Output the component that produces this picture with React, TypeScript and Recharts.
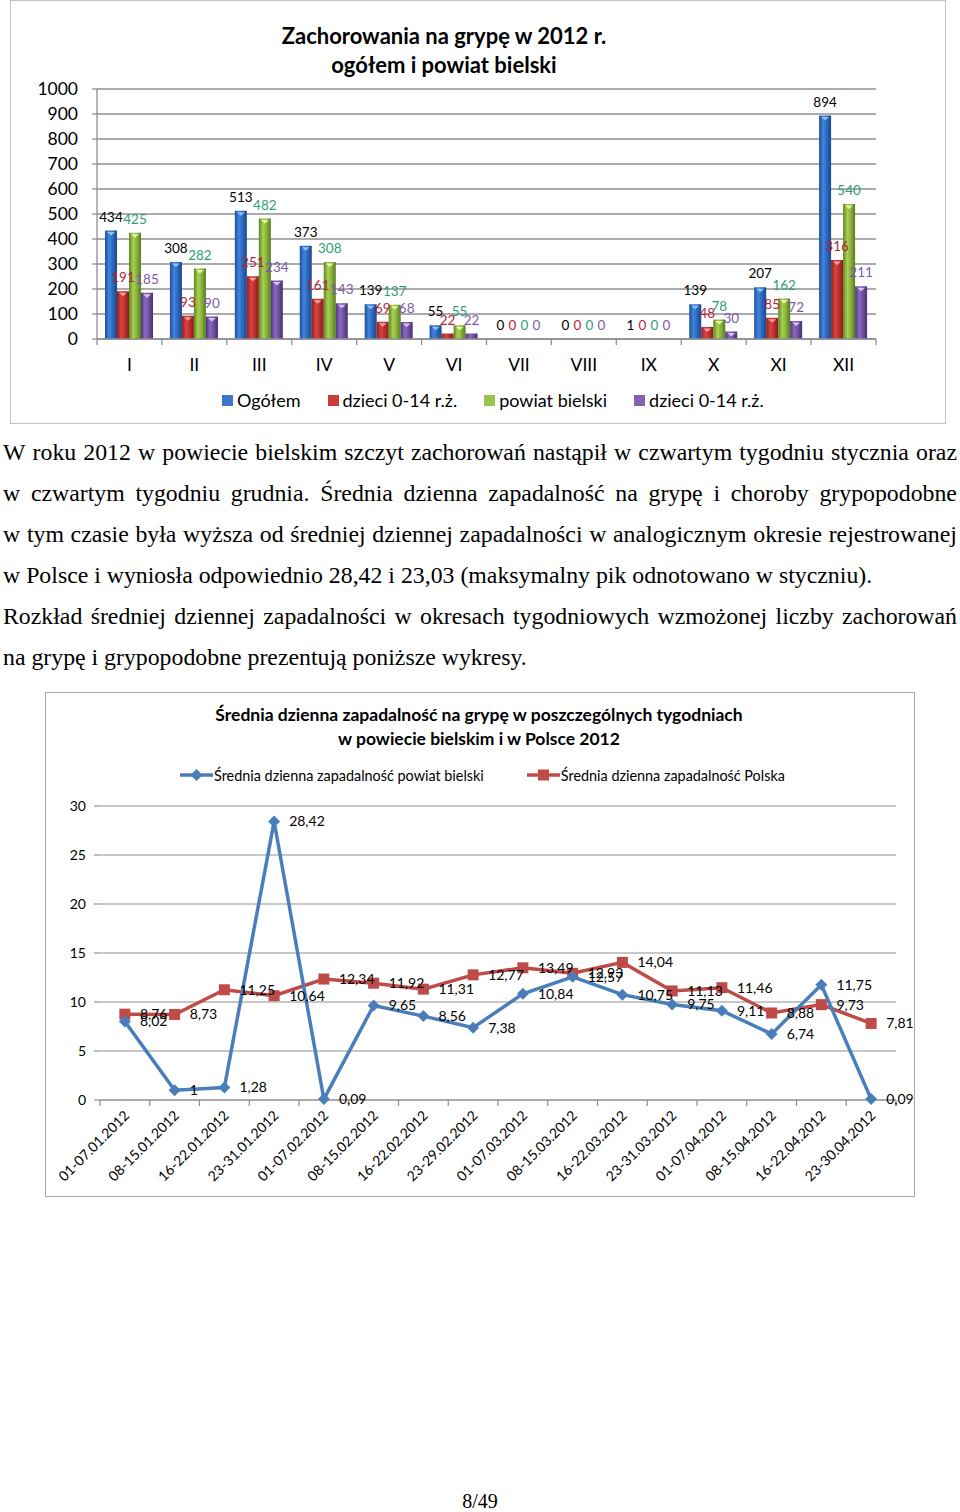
import React from 'react';
import { BarChart, Bar, XAxis, YAxis, CartesianGrid, LabelList, LineChart, Line } from 'recharts';

// ---------- Chart 1 data ----------
const months = ['I', 'II', 'III', 'IV', 'V', 'VI', 'VII', 'VIII', 'IX', 'X', 'XI', 'XII'];
const ogolem = [434, 308, 513, 373, 139, 55, 0, 0, 1, 139, 207, 894];
const dzieci = [191, 93, 251, 161, 69, 22, 0, 0, 0, 48, 85, 316];
const powiat = [425, 282, 482, 308, 137, 55, 0, 0, 0, 78, 162, 540];
const dzieciPowiat = [185, 90, 234, 143, 68, 22, 0, 0, 0, 30, 72, 211];
const barTicks = [0, 100, 200, 300, 400, 500, 600, 700, 800, 900, 1000];

// ---------- Chart 2 data ----------
const weeks = [
  '01-07.01.2012', '08-15.01.2012', '16-22.01.2012', '23-31.01.2012',
  '01-07.02.2012', '08-15.02.2012', '16-22.02.2012', '23-29.02.2012',
  '01-07.03.2012', '08-15.03.2012', '16-22.03.2012', '23-31.03.2012',
  '01-07.04.2012', '08-15.04.2012', '16-22.04.2012', '23-30.04.2012',
];
const rateBielski = [8.02, 1, 1.28, 28.42, 0.09, 9.65, 8.56, 7.38, 10.84, 12.57, 10.75, 9.75, 9.11, 6.74, 11.75, 0.09];
const ratePolska = [8.76, 8.73, 11.25, 10.64, 12.34, 11.92, 11.31, 12.77, 13.49, 12.93, 14.04, 11.13, 11.46, 8.88, 9.73, 7.81];
const lineTicks = [0, 5, 10, 15, 20, 25, 30];

const barData = months.map((m, i) => ({
  m,
  ogolem: ogolem[i],
  dzieci: dzieci[i],
  powiat: powiat[i],
  dzieciPowiat: dzieciPowiat[i],
}));
const lineData = weeks.map((w, i) => ({ w, bielski: rateBielski[i], polska: ratePolska[i] }));

const FONT = 'Lato, "Open Sans", sans-serif';
const SERIF = '"Liberation Serif", "Times New Roman", serif';
const GRID = '#8f8f8f';

// chart 1 geometry (styles)
const C1W = 937, C1H = 424;
const C1M = { top: 89, right: 71, left: 0, bottom: 0 };
const C1Y = 87, C1X = 85;
const C1PlotW = C1W - C1M.right - C1Y;

// chart 2 geometry
const C2W = 870, C2H = 505;
const C2M = { top: 114, right: 19, left: 0, bottom: 0 };
const C2Y = 55, C2X = 97;
const C2PlotW = C2W - C2M.right - C2Y;
const C2Pad = C2PlotW / weeks.length / 2;

const barSeries = [
  { key: 'ogolem', name: 'Ogółem', grad: 'gBlue', cap: '#8fc0f5', label: '#000000', icon: '#3a78cc' },
  { key: 'dzieci', name: 'dzieci 0-14 r.ż.', grad: 'gRed', cap: '#f2a0a0', label: '#b3263a', icon: '#cc3b38' },
  { key: 'powiat', name: 'powiat bielski', grad: 'gGreen', cap: '#e2f5a0', label: '#2f9e72', icon: '#9bc24a' },
  { key: 'dzieciPowiat', name: 'dzieci 0-14 r.ż.', grad: 'gPurple', cap: '#d6c4f2', label: '#7b5aa6', icon: '#8462b0' },
];

const makeBarShape = (grad: string, cap: string) => (props: any) => {
  const { x, y, width, height } = props;
  if (!height || height <= 0) return <g />;
  const cx = x + width / 2;
  return (
    <g>
      <rect x={x} y={y} width={width} height={height} fill={`url(#${grad})`} />
      {height > 6 && (
        <polygon points={`${cx - 4},${y + 1.5} ${cx + 4},${y + 1.5} ${cx},${y + 5}`} fill={cap} />
      )}
    </g>
  );
};

const MonthTick = (props: any) => {
  const { x, y, payload, index } = props;
  const half = C1PlotW / months.length / 2;
  return (
    <g>
      <line x1={x - half} y1={y} x2={x - half} y2={y + 6} stroke={GRID} strokeWidth={1.3} />
      {index === months.length - 1 && (
        <line x1={x + half} y1={y} x2={x + half} y2={y + 6} stroke={GRID} strokeWidth={1.3} />
      )}
      <text x={x} y={y + 26} dy="0.35em" textAnchor="middle" fontSize={17.5} fill="#000" fontFamily={FONT}>
        {payload.value}
      </text>
    </g>
  );
};

const WeekTick = (props: any) => {
  const { x, y, payload, index } = props;
  const half = C2Pad;
  const tx = x + 2;
  const ty = y + 13;
  return (
    <g>
      <line x1={x - half} y1={y} x2={x - half} y2={y + 6} stroke={GRID} strokeWidth={1.2} />
      {index === weeks.length - 1 && (
        <line x1={x + half} y1={y} x2={x + half} y2={y + 6} stroke={GRID} strokeWidth={1.2} />
      )}
      <text
        x={tx}
        y={ty}
        dy="0.35em"
        textAnchor="end"
        fontSize={14}
        fill="#000"
        fontFamily={FONT}
        transform={`rotate(-45, ${tx}, ${ty})`}
      >
        {payload.value}
      </text>
    </g>
  );
};

const fmt = (v: number) => String(v).replace('.', ',');

const pointLabel = (p: any) => {
  const px = p.x ?? p.viewBox?.x;
  const py = p.y ?? p.viewBox?.y;
  return (
    <text x={px + 15} y={py} dy="0.35em" fontSize={14} fill="#000" fontFamily={FONT}>
      {fmt(p.value)}
    </text>
  );
};

const Diamond = (props: any) => {
  const { cx, cy } = props;
  if (cx == null || cy == null) return <g />;
  const r = 6;
  return <polygon points={`${cx},${cy - r} ${cx + r},${cy} ${cx},${cy + r} ${cx - r},${cy}`} fill="#4a7ebb" />;
};

const Square = (props: any) => {
  const { cx, cy } = props;
  if (cx == null || cy == null) return <g />;
  const s = 11;
  return <rect x={cx - s / 2} y={cy - s / 2} width={s} height={s} fill="#be4b48" />;
};

const justifiedLines = [
  'W roku 2012 w powiecie bielskim szczyt zachorowań nastąpił w czwartym tygodniu stycznia oraz',
  'w czwartym tygodniu grudnia. Średnia dzienna zapadalność na grypę i choroby grypopodobne',
  'w tym czasie była wyższa od średniej dziennej zapadalności w analogicznym okresie rejestrowanej',
];
const line4 = 'w Polsce i wyniosła odpowiednio 28,42 i 23,03 (maksymalny pik odnotowano w styczniu).';
const line5 = 'Rozkład średniej dziennej zapadalności w okresach tygodniowych wzmożonej liczby zachorowań';
const line6 = 'na grypę i grypopodobne prezentują poniższe wykresy.';

const TEXT_SIZE = 23.8;

const JLine = ({ text, top }: { text: string; top: number }) => (
  <div
    style={{
      position: 'absolute', left: 3, width: 954, top, height: 41, lineHeight: '41px',
      display: 'flex', justifyContent: 'space-between', whiteSpace: 'nowrap',
      fontFamily: SERIF, fontSize: TEXT_SIZE, color: '#000',
    }}
  >
    {text.split(' ').map((w, i) => <span key={i}>{w}</span>)}
  </div>
);

const PLine = ({ text, top }: { text: string; top: number }) => (
  <div
    style={{
      position: 'absolute', left: 3, top, height: 41, lineHeight: '41px', whiteSpace: 'nowrap',
      fontFamily: SERIF, fontSize: TEXT_SIZE, color: '#000',
    }}
  >
    {text}
  </div>
);

export default function App() {
  const textTop = 432;
  return (
    <div style={{ position: 'absolute', left: 0, top: 0, width: 960, height: 1512, background: '#fff', overflow: 'hidden' }}>
      <svg width={0} height={0} style={{ position: 'absolute' }}>
        <defs>
          <linearGradient id="gBlue" x1="0" y1="0" x2="1" y2="0">
            <stop offset="0" stopColor="#1f4f9a" />
            <stop offset="0.35" stopColor="#3f86dc" />
            <stop offset="0.6" stopColor="#2f6cc2" />
            <stop offset="1" stopColor="#1c468a" />
          </linearGradient>
          <linearGradient id="gRed" x1="0" y1="0" x2="1" y2="0">
            <stop offset="0" stopColor="#8f1f1d" />
            <stop offset="0.35" stopColor="#d84440" />
            <stop offset="0.6" stopColor="#c23430" />
            <stop offset="1" stopColor="#861c1a" />
          </linearGradient>
          <linearGradient id="gGreen" x1="0" y1="0" x2="1" y2="0">
            <stop offset="0" stopColor="#5f8424" />
            <stop offset="0.35" stopColor="#a8d050" />
            <stop offset="0.6" stopColor="#8fb840" />
            <stop offset="1" stopColor="#587a20" />
          </linearGradient>
          <linearGradient id="gPurple" x1="0" y1="0" x2="1" y2="0">
            <stop offset="0" stopColor="#4f3478" />
            <stop offset="0.35" stopColor="#8a6ac0" />
            <stop offset="0.6" stopColor="#7454a8" />
            <stop offset="1" stopColor="#4a306f" />
          </linearGradient>
        </defs>
      </svg>

      {/* Chart 1 */}
      <div style={{ position: 'absolute', left: 10, top: 0, width: C1W, height: C1H }}>
        <BarChart width={C1W} height={C1H} data={barData} margin={C1M} barSize={12} barGap={0}>
          <CartesianGrid horizontal vertical={false} stroke={GRID} strokeWidth={1.3} />
          <XAxis
            dataKey="m"
            height={C1X}
            tickSize={0}
            tickMargin={0}
            axisLine={{ stroke: GRID, strokeWidth: 1.3 }}
            tickLine={false}
            tick={<MonthTick />}
            interval={0}
          />
          <YAxis
            width={C1Y}
            domain={[0, 1000]}
            ticks={barTicks}
            interval={0}
            tickSize={5}
            tickMargin={14}
            axisLine={{ stroke: GRID, strokeWidth: 1.3 }}
            tickLine={{ stroke: GRID, strokeWidth: 1.3 }}
            tick={{ fontSize: 17.5, fill: '#000', fontFamily: FONT }}
          />
          {barSeries.map((s) => (
            <Bar key={s.key} dataKey={s.key} name={s.name} isAnimationActive={false} shape={makeBarShape(s.grad, s.cap)}>
              <LabelList dataKey={s.key} position="top" offset={9} fontSize={13.5} fill={s.label} fontFamily={FONT} />
            </Bar>
          ))}
        </BarChart>
      </div>
      <div style={{ position: 'absolute', left: 10, top: 0, width: C1W - 3, height: C1H - 2, border: '1.5px solid #c4c4c4', pointerEvents: 'none' }} />

      {/* Chart 1 title */}
      <div style={{ position: 'absolute', left: 0, width: 888, top: 21, textAlign: 'center', fontFamily: FONT, fontWeight: 700, fontSize: 22, lineHeight: '29px', color: '#000' }}>
        Zachorowania na grypę w 2012 r.<br />ogółem i powiat bielski
      </div>

      {/* Chart 1 legend */}
      <div style={{ position: 'absolute', left: 222, top: 389, height: 22, display: 'flex', alignItems: 'center', fontFamily: FONT, fontSize: 18, color: '#000', whiteSpace: 'nowrap' }}>
        {barSeries.map((s, i) => (
          <div key={i} style={{ display: 'flex', alignItems: 'center', marginRight: 27 }}>
            <span style={{ display: 'inline-block', width: 11, height: 11, backgroundColor: s.icon, marginRight: 4 }} />
            <span>{s.name}</span>
          </div>
        ))}
      </div>

      {/* Paragraph */}
      {justifiedLines.map((t, i) => <JLine key={i} text={t} top={textTop + 41 * i} />)}
      <PLine text={line4} top={textTop + 41 * 3} />
      <JLine text={line5} top={textTop + 41 * 4} />
      <PLine text={line6} top={textTop + 41 * 5} />

      {/* Chart 2 */}
      <div style={{ position: 'absolute', left: 45, top: 692, width: C2W, height: C2H }}>
        <LineChart width={C2W} height={C2H} data={lineData} margin={C2M}>
          <CartesianGrid horizontal vertical={false} stroke={GRID} strokeWidth={1.2} />
          <XAxis
            dataKey="w"
            height={C2X}
            padding={{ left: C2Pad, right: C2Pad }}
            tickSize={0}
            tickMargin={0}
            axisLine={{ stroke: GRID, strokeWidth: 1.2 }}
            tickLine={false}
            tick={<WeekTick />}
            interval={0}
          />
          <YAxis
            width={C2Y}
            domain={[0, 30]}
            ticks={lineTicks}
            interval={0}
            tickSize={6}
            tickMargin={8}
            axisLine={false}
            tickLine={{ stroke: GRID, strokeWidth: 1.2 }}
            tick={{ fontSize: 14, fill: '#000', fontFamily: FONT }}
          />
          <Line
            dataKey="polska"
            name="Średnia dzienna zapadalność Polska"
            stroke="#be4b48"
            strokeWidth={3.5}
            dot={<Square />}
            isAnimationActive={false}
          >
            <LabelList dataKey="polska" content={pointLabel} />
          </Line>
          <Line
            dataKey="bielski"
            name="Średnia dzienna zapadalność powiat bielski"
            stroke="#4a7ebb"
            strokeWidth={3.5}
            dot={<Diamond />}
            isAnimationActive={false}
          >
            <LabelList dataKey="bielski" content={pointLabel} />
          </Line>
        </LineChart>
      </div>
      <div style={{ position: 'absolute', left: 45, top: 692, width: C2W - 2, height: C2H - 2, border: '1.5px solid #a8a8a8', pointerEvents: 'none' }} />

      {/* Chart 2 title */}
      <div style={{ position: 'absolute', left: 0, width: 958, top: 703, textAlign: 'center', fontFamily: FONT, fontWeight: 700, fontSize: 17.5, lineHeight: '24px', color: '#000' }}>
        Średnia dzienna zapadalność na grypę w poszczególnych tygodniach<br />w powiecie bielskim i w Polsce 2012
      </div>

      {/* Chart 2 legend */}
      <div style={{ position: 'absolute', left: 180, top: 765, height: 20, display: 'flex', alignItems: 'center', fontFamily: FONT, fontSize: 14.4, color: '#000', whiteSpace: 'nowrap' }}>
        <svg width={33} height={14} style={{ marginRight: 1 }}>
          <line x1={0} y1={7} x2={33} y2={7} stroke="#4a7ebb" strokeWidth={3.5} />
          <polygon points="16.5,1 22.5,7 16.5,13 10.5,7" fill="#4a7ebb" />
        </svg>
        <span style={{ marginRight: 43 }}>Średnia dzienna zapadalność powiat bielski</span>
        <svg width={33} height={14} style={{ marginRight: 1 }}>
          <line x1={0} y1={7} x2={33} y2={7} stroke="#be4b48" strokeWidth={3.5} />
          <rect x={11} y={1.5} width={11} height={11} fill="#be4b48" />
        </svg>
        <span>Średnia dzienna zapadalność Polska</span>
      </div>

      {/* Page number */}
      <div style={{ position: 'absolute', left: 0, width: 960, top: 1491, textAlign: 'center', fontFamily: SERIF, fontSize: 20, lineHeight: '20px', color: '#000' }}>
        8/49
      </div>
    </div>
  );
}
